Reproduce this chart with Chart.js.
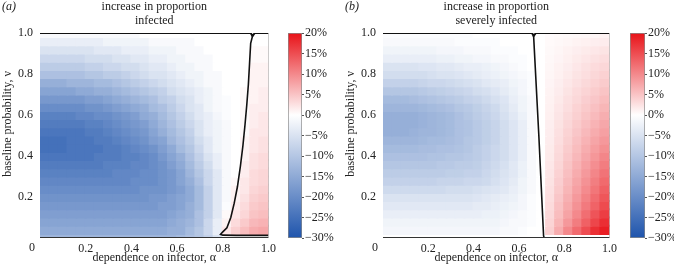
<!DOCTYPE html>
<html><head><meta charset="utf-8">
<script src="https://cdn.jsdelivr.net/npm/chart.js@4.4.1/dist/chart.umd.min.js"></script>
<style>
html,body{margin:0;padding:0;background:#fff;}
#wrap{position:relative;width:674px;height:269px;overflow:hidden;background:#fff;}
canvas{position:absolute;top:0;}
</style></head><body>
<div id="wrap">
<canvas id="ha" style="left:0px;width:280px;height:269px" width="280" height="269"></canvas>
<canvas id="ca" style="left:284px;width:52px;height:269px" width="52" height="269"></canvas>
<canvas id="hb" style="left:337px;width:284px;height:269px" width="284" height="269"></canvas>
<canvas id="cb" style="left:626px;width:48px;height:269px" width="48" height="269"></canvas>
</div>
<script>
// ---------- data ----------
const alphaCenters = [0.02,0.06,0.10,0.14,0.18,0.22,0.26,0.30,0.34,0.38,0.42,0.46,0.50,0.54,0.58,0.62,0.66,0.70,0.74,0.78,0.82,0.86,0.90,0.94,0.98];
// rows from top (v = 1) to bottom (v = 0)
const rowBands = [[0.98,1.00],[0.94,0.98],[0.90,0.94],[0.86,0.90],[0.82,0.86],[0.78,0.82],[0.74,0.78],[0.70,0.74],[0.66,0.70],[0.62,0.66],[0.58,0.62],[0.54,0.58],[0.50,0.54],[0.46,0.50],[0.42,0.46],[0.38,0.42],[0.34,0.38],[0.30,0.34],[0.26,0.30],[0.22,0.26],[0.18,0.22],[0.14,0.18],[0.10,0.14],[0.06,0.10],[0.02,0.06],[0.00,0.02]];

// (a) increase in proportion infected, %
const infectedGrid = [
[-1,-1,-1,-1,-1,-1,-1,-1,-1,-1,-1,0,0,0,0,0,0,0,0,0,0,0,0,0,0],
[-3,-3,-3,-3,-3,-3,-3,-2,-2,-2,-2,-2,-1,-1,-1,-1,-1,0,0,0,0,0,0,0,0],
[-5,-5,-5,-5,-5,-5,-4,-4,-4,-3,-3,-3,-2,-2,-2,-1,-1,-1,0,0,0,0,0,0.5,0.5],
[-7,-7,-7,-7,-7,-6,-6,-6,-5,-5,-4,-4,-3,-3,-2,-2,-1,-1,-1,0,0,0,0,0.5,0.5],
[-9,-9,-9,-9,-9,-8,-8,-7,-7,-6,-6,-5,-4,-4,-3,-2,-2,-1,-1,0,0,0,0,1,1],
[-11,-11,-11,-11,-11,-10,-10,-9,-9,-8,-7,-6,-5,-5,-4,-3,-2,-2,-1,-1,0,0,0,1,1],
[-14,-14,-14,-13,-13,-13,-12,-12,-11,-10,-9,-8,-7,-6,-5,-4,-3,-2,-1,-1,0,0,0,1,1],
[-16,-16,-16,-16,-15,-15,-14,-14,-13,-12,-11,-10,-9,-8,-6,-5,-4,-3,-2,-1,0,0,0.5,1,1.5],
[-18,-18,-18,-18,-18,-17,-17,-16,-15,-14,-13,-12,-11,-9,-8,-6,-5,-3,-2,-1,-0.5,0,0.5,1,1.5],
[-20,-20,-20,-20,-20,-19,-19,-18,-17,-16,-15,-14,-12,-11,-9,-7,-5,-4,-2,-1,-0.5,0,0.5,1.5,1.5],
[-22,-22,-22,-22,-21,-21,-20,-20,-19,-18,-17,-15,-14,-12,-10,-8,-6,-4,-3,-1.5,-0.5,0,0.5,1.5,2],
[-23,-23,-23,-23,-23,-22,-22,-21,-20,-19,-18,-17,-15,-13,-11,-9,-7,-5,-3,-2,-1,0,0.5,1.5,2],
[-24,-24,-24,-24,-24,-23,-23,-22,-21,-20,-19,-18,-16,-14,-12,-10,-8,-5,-3,-2,-1,0,0.5,2,2],
[-25,-25,-25,-24,-24,-24,-23,-23,-22,-21,-20,-19,-17,-16,-13,-11,-9,-6,-4,-2,-1,0,1,2,2.5],
[-25,-25,-25,-24,-24,-24,-24,-23,-23,-22,-21,-20,-19,-17,-15,-12,-10,-7,-4,-2,-1,0,1,2,2.5],
[-24,-24,-24,-24,-24,-24,-23,-23,-23,-22,-22,-21,-20,-18,-16,-14,-11,-8,-5,-3,-1,0,1,2.5,3],
[-23,-23,-23,-23,-23,-23,-23,-22,-22,-22,-21,-21,-20,-19,-17,-15,-12,-9,-6,-3,-1,0,1.5,2.5,3],
[-22,-22,-22,-22,-22,-22,-22,-22,-21,-21,-21,-20,-20,-19,-18,-16,-13,-10,-7,-4,-1,0,1.5,3,3.5],
[-21,-21,-21,-21,-21,-21,-21,-21,-21,-21,-20,-20,-20,-19,-18,-16,-14,-11,-7,-4,-1,0.5,2,3,3.5],
[-20,-20,-20,-20,-20,-20,-20,-20,-20,-20,-20,-19,-19,-19,-18,-17,-15,-12,-8,-4,-1,1,2,3.5,4],
[-19,-19,-19,-19,-19,-19,-19,-19,-19,-19,-19,-19,-18,-18,-17,-16,-15,-12,-8,-4,-1,1,2.5,4,4.5],
[-18,-18,-18,-18,-18,-18,-18,-18,-18,-18,-18,-18,-18,-17,-17,-16,-14,-12,-8,-4,-0.5,1.5,3,4.5,5],
[-17,-17,-17,-17,-17,-17,-17,-17,-17,-17,-17,-17,-17,-17,-16,-15,-14,-11,-8,-4,0.5,2,3.5,5,5.5],
[-16,-16,-16,-16,-16,-16,-16,-16,-16,-16,-16,-16,-16,-16,-15,-14,-13,-11,-7,-3,1,3,4.5,6,6.5],
[-15,-15,-15,-15,-15,-15,-15,-15,-15,-15,-15,-15,-15,-15,-14,-14,-12,-10,-7,-3,2,4,5.5,7,7.5],
[-13,-13,-13,-13,-13,-13,-13,-13,-13,-13,-13,-13,-13,-13,-13,-12,-11,-10,-8,-5,0,0,0,0,0]
];

// (b) increase in proportion severely infected, %
const severeGrid = [
[-0.5,-0.5,-0.5,-0.5,-0.5,-0.5,-0.5,-0.5,-0.5,-0.5,0,0,0,0,0,0,0,0,0.3,0.4,0.5,0.6,0.7,0.8,1],
[-1,-1,-1,-1,-1,-1,-1,-1,-0.5,-0.5,-0.5,-0.5,-0.5,0,0,0,0,0,0.4,0.6,0.8,1,1.2,1.4,1.6],
[-2,-2,-2,-2,-2,-2,-1.5,-1.5,-1.5,-1,-1,-1,-0.5,-0.5,-0.5,0,0,0,0.5,0.8,1.1,1.4,1.7,2,2.3],
[-3,-3,-3,-3,-3,-3,-2.5,-2.5,-2,-2,-1.5,-1.5,-1,-1,-0.5,-0.5,0,0,0.6,0.9,1.3,1.7,2.1,2.5,2.9],
[-5,-5,-5,-5,-4.5,-4.5,-4,-4,-3.5,-3,-3,-2.5,-2,-1.5,-1,-0.5,0,0,0.7,1.1,1.5,2,2.5,3,3.4],
[-6,-6,-6,-6,-6,-5.5,-5,-5,-4.5,-4,-3.5,-3,-2.5,-2,-1.5,-1,-0.5,0,0.8,1.2,1.7,2.3,2.8,3.4,3.9],
[-8,-8,-8,-8,-7.5,-7,-7,-6.5,-6,-5.5,-5,-4,-3.5,-3,-2,-1.5,-0.5,0,0.9,1.4,2,2.6,3.2,3.8,4.4],
[-10,-10,-10,-10,-9.5,-9,-8.5,-8,-7.5,-7,-6,-5.5,-4.5,-3.5,-2.5,-1.5,-0.5,0,1,1.6,2.3,3,3.6,4.3,5],
[-12,-12,-12,-11.5,-11,-10.5,-10,-9.5,-9,-8,-7.5,-6.5,-5.5,-4.5,-3,-2,-1,0,1.1,1.8,2.6,3.3,4.1,4.8,5.6],
[-13,-13,-13,-13,-12.5,-12,-11.5,-11,-10,-9.5,-8.5,-7.5,-6.5,-5,-3.5,-2,-1,0,1.2,2,2.8,3.7,4.5,5.3,6.2],
[-14,-14,-14,-14,-13.5,-13,-12.5,-12,-11,-10,-9,-8,-7,-5.5,-4,-2.5,-1,0,1.3,2.2,3.1,4,4.9,5.8,6.8],
[-14,-14,-14,-14,-13.5,-13,-12.5,-12,-11,-10.5,-9.5,-8.5,-7.5,-6,-4.5,-3,-1,0,1.4,2.4,3.4,4.4,5.4,6.4,7.4],
[-14,-14,-14,-13.5,-13,-13,-12.5,-12,-11,-10.5,-9.5,-8.5,-7.5,-6,-4.5,-3,-1,0,1.5,2.6,3.7,4.8,5.9,7,8],
[-13,-13,-13,-13,-12.5,-12,-12,-11.5,-11,-10,-9.5,-8.5,-7.5,-6,-4.5,-3,-1,0,1.6,2.8,4,5.2,6.4,7.6,8.7],
[-12,-12,-12,-12,-11.5,-11.5,-11,-11,-10.5,-10,-9,-8,-7,-6,-4.5,-3,-1,0,1.7,3,4.3,5.6,6.9,8.2,9.4],
[-11,-11,-11,-11,-11,-10.5,-10.5,-10,-10,-9.5,-9,-8,-7,-6,-4.5,-3,-1,0,1.8,3.2,4.6,6,7.4,8.8,10.2],
[-10,-10,-10,-10,-10,-10,-9.5,-9.5,-9,-9,-8.5,-7.5,-6.5,-5.5,-4,-2.5,-1,0,2,3.5,5,6.5,8,9.5,11],
[-9,-9,-9,-9,-9,-9,-9,-8.5,-8.5,-8,-8,-7,-6,-5,-4,-2.5,-1,0,2.2,3.8,5.4,7,8.6,10.2,11.8],
[-8,-8,-8,-8,-8,-8,-7.5,-7.5,-7.5,-7,-7,-6.5,-5.5,-4.5,-3.5,-2,-1,0,2.4,4.1,5.8,7.5,9.2,10.9,12.6],
[-6.5,-6.5,-6.5,-6.5,-6.5,-6.5,-6.5,-6,-6,-6,-5.5,-5,-4.5,-4,-3,-2,-1,0,2.6,4.4,6.2,8,9.8,11.6,13.4],
[-5,-5,-5,-5,-5,-5,-5,-5,-5,-5,-4.5,-4,-3.5,-3,-2.5,-1.5,-0.5,0,2.8,4.8,6.7,8.6,10.5,12.4,14.3],
[-4,-4,-4,-4,-4,-4,-4,-4,-4,-4,-3.5,-3.5,-3,-2.5,-2,-1.5,-0.5,0,3,5.2,7.2,9.2,11.2,13.2,15.2],
[-3,-3,-3,-3,-3,-3,-3,-3,-3,-3,-3,-2.5,-2.5,-2,-1.5,-1,-0.5,0,3.3,5.6,7.8,10,12.2,14.4,16.3],
[-2,-2,-2,-2,-2,-2,-2,-2,-2,-2,-2,-2,-2,-1.5,-1,-1,-0.5,0,3.6,6.2,8.7,11,13.3,15.6,17.6],
[-1.5,-1.5,-1.5,-1.5,-1.5,-1.5,-1.5,-1.5,-1.5,-1.5,-1.5,-1.5,-1.5,-1,-1,-0.5,0,0,4,7,10,12.5,15,17.5,19],
[0,0,0,0,0,0,0,0,0,0,0,0,0,0,0,0,0,0,0,0,0,0,0,0,0]
];

// zero-change contours and frame lines (alpha, v)
const infectedTopAlpha = [0, 0.922, 0.93, 0.94, 1.0];
const infectedTopV     = [1, 1, 0.985, 1, 1];
const infectedContourAlpha = [0.93, 0.922, 0.917, 0.912, 0.905, 0.897, 0.888, 0.877, 0.864, 0.85, 0.835, 0.818, 0.80, 0.79, 0.80, 0.86, 1.0];
const infectedContourV     = [0.985, 0.95, 0.85, 0.75, 0.65, 0.55, 0.45, 0.35, 0.25, 0.17, 0.10, 0.05, 0.03, 0.018, 0.014, 0.013, 0.013];
const severeTopAlpha = [0, 0.658, 0.665, 0.675, 1.0];
const severeTopV     = [1, 1, 0.985, 1, 1];
const severeContourAlpha = [0.665, 0.688, 0.709, 0.712];
const severeContourV     = [0.985, 0.5, 0.01, 0];
const frameBottomAlpha = [0, 1];
const frameBottomV = [0, 0];
const frameRightAlpha = [1, 1];
const frameRightV = [0, 1];

const xTickValues = [0.2, 0.4, 0.6, 0.8, 1.0];
const yTickValues = [0.2, 0.4, 0.6, 0.8, 1.0];
const colorbarMin = -30, colorbarMax = 20, colorbarStep = 5;

const titleA = ['increase in proportion', 'infected'];
const titleB = ['increase in proportion', 'severely infected'];
const xTitle = 'dependence on infector, \u03b1';
const yTitle = 'baseline probability, \u03bd';

// ---------- styling ----------
const FONT = '"Liberation Serif", "Times New Roman", serif';
const TXT = '#222';
const NEG = [30, 84, 172];
const POS = [232, 18, 24];
function mix(c, t) {
  return 'rgb(' + Math.round(255 + (c[0]-255)*t) + ',' + Math.round(255 + (c[1]-255)*t) + ',' + Math.round(255 + (c[2]-255)*t) + ')';
}
function cellColor(p) {
  if (p < 0) return mix(NEG, Math.min(1, -p / 30));
  return mix(POS, Math.min(1, p / 20));
}
function zip(xs, ys) { return xs.map((x, i) => ({x: x, y: ys[i]})); }

Chart.defaults.font.family = FONT;
Chart.defaults.font.size = 12;
Chart.defaults.color = TXT;

function heatDatasets(grid) {
  return rowBands.map((band, ri) => ({
    type: 'bar',
    data: alphaCenters.map(a => ({x: a, y: band})),
    backgroundColor: grid[ri].map(cellColor),
    borderWidth: 0,
    inflateAmount: 1,
    grouped: false,
    barPercentage: 1,
    categoryPercentage: 1,
    order: 2
  }));
}
function lineDs(xs, ys, color, width) {
  return {type: 'line', data: zip(xs, ys), borderColor: color, borderWidth: width,
          pointRadius: 0, fill: false, tension: 0, order: 0};
}

function textPlugin(label, titleLines) {
  return {
    id: 'panelText',
    afterDraw(chart) {
      const ctx = chart.ctx, a = chart.chartArea;
      const cx = (a.left + a.right) / 2;
      ctx.save();
      ctx.fillStyle = TXT;
      ctx.textBaseline = 'middle';
      ctx.textAlign = 'center';
      ctx.font = '12px ' + FONT;
      ctx.fillText(titleLines[0], cx, 7);
      ctx.fillText(titleLines[1], cx, 21);
      ctx.fillText(xTitle, cx, 258);
      ctx.textBaseline = 'top';
      ctx.fillText('0', a.left - 8, a.bottom + 4);
      ctx.textBaseline = 'middle';
      ctx.font = 'italic 12px ' + FONT;
      ctx.fillText(label, a.left - 31, 7);
      ctx.font = '12px ' + FONT;
      ctx.translate(a.left - 32, 124);
      ctx.rotate(-Math.PI / 2);
      ctx.fillText(yTitle, 0, 0);
      ctx.restore();
    }
  };
}

function heatChart(id, grid, lines, yAxisWidth, label, titleLines) {
  return new Chart(document.getElementById(id), {
    type: 'bar',
    data: {datasets: heatDatasets(grid).concat(lines)},
    options: {
      responsive: false, animation: false, events: [],
      layout: {padding: {top: 33, right: 8, bottom: 0, left: 0}},
      plugins: {legend: {display: false}, tooltip: {enabled: false}},
      scales: {
        x: {type: 'linear', min: 0, max: 1, offset: false,
            grid: {display: false, drawTicks: false, offset: false}, border: {display: false},
            afterBuildTicks(s) { s.ticks = xTickValues.map(v => ({value: v})); },
            ticks: {padding: 4, maxRotation: 0, autoSkip: false, callback: v => v.toFixed(1)},
            afterFit(s) { s.height = 31; }},
        y: {type: 'linear', min: 0, max: 1,
            grid: {display: false, drawTicks: false}, border: {display: false},
            afterBuildTicks(s) { s.ticks = yTickValues.map(v => ({value: v})); },
            ticks: {padding: 7, autoSkip: false, callback: v => v.toFixed(1)},
            afterFit(s) { s.width = yAxisWidth; }}
      }
    },
    plugins: [textPlugin(label, titleLines)]
  });
}

function colorbar(id, axisWidth) {
  return new Chart(document.getElementById(id), {
    type: 'bar',
    data: {labels: ['c'], datasets: [{
      data: [[colorbarMin, colorbarMax]],
      backgroundColor(ctx) {
        const a = ctx.chart.chartArea;
        if (!a) return '#fff';
        const g = ctx.chart.ctx.createLinearGradient(0, a.bottom, 0, a.top);
        const z = -colorbarMin / (colorbarMax - colorbarMin);
        g.addColorStop(0, cellColor(colorbarMin));
        g.addColorStop(z, '#ffffff');
        g.addColorStop(1, cellColor(colorbarMax));
        return g;
      },
      borderColor: '#8a8a8a', borderWidth: 1, borderSkipped: false,
      barPercentage: 1, categoryPercentage: 1
    }]},
    options: {
      responsive: false, animation: false, events: [],
      layout: {padding: {top: 33, right: 0, bottom: 31, left: 4}},
      plugins: {legend: {display: false}, tooltip: {enabled: false}},
      scales: {
        x: {display: false},
        y: {position: 'right', min: colorbarMin, max: colorbarMax,
            grid: {drawOnChartArea: false, drawTicks: true, tickLength: 2, color: '#555'},
            border: {display: false},
            ticks: {stepSize: colorbarStep, padding: 1,
                    callback: v => (v < 0 ? '\u2212' + (-v) : String(v)) + '%'},
            afterFit(s) { s.width = axisWidth; }}
      }
    }
  });
}

heatChart('ha', infectedGrid, [
  lineDs(frameBottomAlpha, frameBottomV, '#333', 2),
  lineDs(frameRightAlpha, frameRightV, '#999', 1),
  lineDs(infectedTopAlpha, infectedTopV, '#111', 2),
  lineDs(infectedContourAlpha, infectedContourV, '#111', 1.6)
], 40, '(a)', titleA);
colorbar('ca', 34);
heatChart('hb', severeGrid, [
  lineDs(frameBottomAlpha, frameBottomV, '#333', 2),
  lineDs(frameRightAlpha, frameRightV, '#999', 1),
  lineDs(severeTopAlpha, severeTopV, '#111', 2),
  lineDs(severeContourAlpha, severeContourV, '#111', 1.6)
], 46, '(b)', titleB);
colorbar('cb', 29);
</script>
</body></html>
